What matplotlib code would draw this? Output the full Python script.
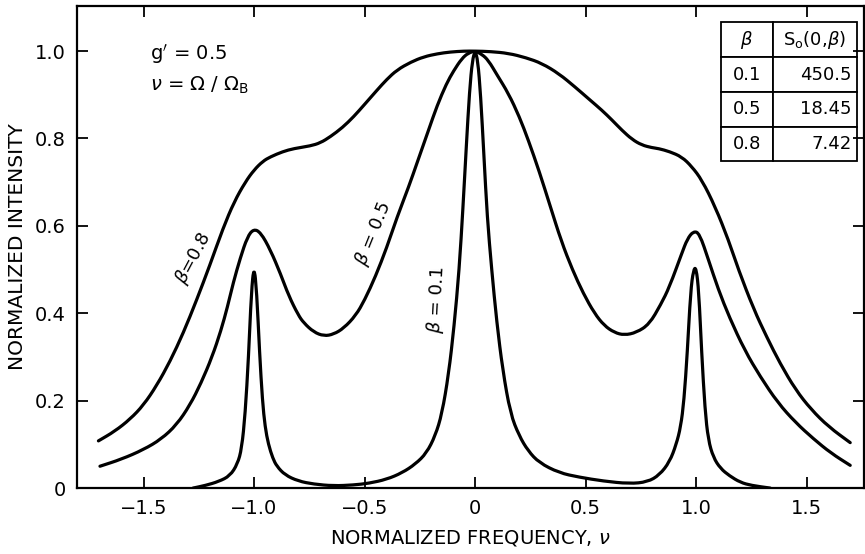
import matplotlib
matplotlib.use("Agg")
import matplotlib.pyplot as plt
from matplotlib.path import Path
from matplotlib.patches import PathPatch

# values (normalized frequency, normalized intensity)
nu_01 = [-1.276, -1.22, -1.16, -1.109, -1.075, -1.056, -1.04, -1.025, -1.012, -1.0,
         -0.988, -0.975, -0.962, -0.95, -0.935, -0.915, -0.897, -0.86, -0.80, -0.73,
         -0.641, -0.55, -0.48, -0.40, -0.33, -0.27, -0.22, -0.18, -0.15, -0.12,
         -0.095, -0.072, -0.055, -0.04, -0.025, -0.012, 0.0, 0.012, 0.025, 0.04,
         0.055, 0.075, 0.098, 0.125, 0.16, 0.199, 0.24, 0.29, 0.38, 0.47,
         0.58, 0.698, 0.78, 0.834, 0.88, 0.91, 0.93, 0.945, 0.96, 0.975,
         0.988, 1.0, 1.012, 1.025, 1.04, 1.055, 1.078, 1.11, 1.151, 1.20,
         1.25, 1.335]
int_01 = [0.0, 0.006, 0.015, 0.028, 0.055, 0.09, 0.17, 0.30, 0.45, 0.51,
          0.45, 0.31, 0.20, 0.14, 0.10, 0.068, 0.05, 0.03, 0.016, 0.009,
          0.005, 0.007, 0.011, 0.020, 0.035, 0.055, 0.08, 0.12, 0.17, 0.26,
          0.37, 0.50, 0.64, 0.78, 0.91, 0.98, 1.0, 0.98, 0.90, 0.76,
          0.62, 0.50, 0.38, 0.27, 0.17, 0.12, 0.085, 0.058, 0.035, 0.025,
          0.016, 0.010, 0.014, 0.030, 0.06, 0.10, 0.14, 0.20, 0.31, 0.45,
          0.50, 0.505, 0.45, 0.31, 0.18, 0.11, 0.07, 0.045, 0.028, 0.013,
          0.006, 0.0]

nu_05 = [-1.697, -1.60, -1.50, -1.42, -1.35, -1.29, -1.24, -1.19, -1.15, -1.12,
         -1.094, -1.062, -1.03, -1.002, -0.97, -0.926, -0.88, -0.843, -0.80, -0.775,
         -0.73, -0.684, -0.64, -0.594, -0.54, -0.50, -0.45, -0.40, -0.353, -0.30,
         -0.262, -0.21, -0.172, -0.13, -0.097, -0.06, -0.03, 0.0, 0.03, 0.06,
         0.10, 0.151, 0.20, 0.241, 0.29, 0.34, 0.39, 0.44, 0.49, 0.54,
         0.584, 0.63, 0.675, 0.73, 0.788, 0.84, 0.879, 0.935, 0.96, 0.988,
         1.015, 1.056, 1.10, 1.151, 1.22, 1.29, 1.37, 1.45, 1.53, 1.61,
         1.697]
int_05 = [0.050, 0.066, 0.088, 0.112, 0.145, 0.19, 0.24, 0.30, 0.36, 0.415,
          0.47, 0.527, 0.575, 0.593, 0.585, 0.545, 0.49, 0.44, 0.396, 0.378,
          0.357, 0.348, 0.352, 0.366, 0.395, 0.43, 0.485, 0.55, 0.62, 0.69,
          0.745, 0.82, 0.875, 0.925, 0.955, 0.983, 0.996, 1.0, 0.993, 0.979,
          0.945, 0.903, 0.85, 0.796, 0.725, 0.645, 0.565, 0.50, 0.445, 0.40,
          0.372, 0.356, 0.350, 0.356, 0.375, 0.42, 0.46, 0.537, 0.57, 0.588,
          0.583, 0.522, 0.455, 0.39, 0.315, 0.255, 0.195, 0.15, 0.113, 0.08,
          0.052]

nu_08 = [-1.704, -1.63, -1.56, -1.50, -1.44, -1.38, -1.32, -1.26, -1.20, -1.14,
         -1.09, -1.04, -1.0, -0.96, -0.926, -0.87, -0.820, -0.745, -0.70, -0.655,
         -0.60, -0.549, -0.50, -0.443, -0.40, -0.353, -0.29, -0.232, -0.17, -0.112,
         -0.05, 0.0, 0.07, 0.151, 0.23, 0.302, 0.38, 0.452, 0.52, 0.573,
         0.62, 0.664, 0.71, 0.754, 0.80, 0.830, 0.88, 0.935, 0.98, 1.026,
         1.086, 1.146, 1.192, 1.26, 1.32, 1.38, 1.45, 1.52, 1.60, 1.697]
int_08 = [0.108, 0.13, 0.158, 0.19, 0.235, 0.29, 0.355, 0.43, 0.51, 0.595,
          0.655, 0.70, 0.728, 0.748, 0.758, 0.770, 0.777, 0.783, 0.790, 0.804,
          0.825, 0.850, 0.878, 0.911, 0.935, 0.957, 0.975, 0.987, 0.994, 0.998,
          1.0, 1.0, 0.999, 0.995, 0.985, 0.972, 0.948, 0.918, 0.888, 0.865,
          0.842, 0.819, 0.798, 0.785, 0.779, 0.777, 0.770, 0.758, 0.736, 0.705,
          0.644, 0.568, 0.499, 0.41, 0.345, 0.285, 0.225, 0.18, 0.14, 0.104]

x_ticks = [-1.5, -1.0, -0.5, 0.0, 0.5, 1.0, 1.5]
x_ticklabels = ["\u22121.5", "\u22121.0", "\u22120.5", "0", "0.5", "1.0", "1.5"]
y_ticks = [0.0, 0.2, 0.4, 0.6, 0.8, 1.0]
y_ticklabels = ["0", "0.2", "0.4", "0.6", "0.8", "1.0"]

table_header = [r"$\beta$", r"S$_\mathrm{o}$(0,$\beta$)"]
table_beta = ["0.1", "0.5", "0.8"]
table_s0 = ["450.5", "18.45", "7.42"]


def smooth_path(xs, ys):
    # quadratic b-spline style path: the read points act as control points
    pts = list(zip(xs, ys))
    verts = [pts[0]]
    codes = [Path.MOVETO]
    mid = ((pts[0][0] + pts[1][0]) / 2, (pts[0][1] + pts[1][1]) / 2)
    verts.append(mid)
    codes.append(Path.LINETO)
    for i in range(1, len(pts) - 1):
        nxt = ((pts[i][0] + pts[i + 1][0]) / 2, (pts[i][1] + pts[i + 1][1]) / 2)
        verts += [pts[i], nxt]
        codes += [Path.CURVE3, Path.CURVE3]
    verts.append(pts[-1])
    codes.append(Path.LINETO)
    return Path(verts, codes)


plt.rcParams['font.family'] = ['DejaVu Sans']
plt.rcParams['mathtext.fontset'] = 'dejavusans'

fig = plt.figure(figsize=(8.65, 5.54), dpi=100)
ax = fig.add_axes([0.089, 0.119, 0.910, 0.870])

for xs, ys in [(nu_01, int_01), (nu_05, int_05), (nu_08, int_08)]:
    ax.add_patch(PathPatch(smooth_path(xs, ys), facecolor='none',
                           edgecolor='black', lw=2.3, capstyle='round',
                           joinstyle='round'))

ax.set_xlim(-1.801, 1.76)
ax.set_ylim(0.0, 1.103)
ax.set_xticks(x_ticks)
ax.set_xticklabels(x_ticklabels)
ax.set_yticks(y_ticks)
ax.set_yticklabels(y_ticklabels)
ax.tick_params(direction='in', length=8, width=1.3, labelsize=14,
               top=True, right=True, pad=8)
for s in ax.spines.values():
    s.set_linewidth(1.6)

ax.set_xlabel(r"NORMALIZED FREQUENCY, $\nu$", fontsize=14, labelpad=7)
ax.set_ylabel("NORMALIZED INTENSITY", fontsize=14.5, labelpad=6)

ax.text(-1.471, 0.993, "g$'$ = 0.5", fontsize=14, va='center')
ax.text(-1.471, 0.922, r"$\nu$ = $\Omega$ / $\Omega_\mathrm{B}$", fontsize=14, va='center')

ax.text(-1.275, 0.525, r"$\beta$=0.8", fontsize=13, rotation=62,
        ha='center', va='center')
ax.text(-0.462, 0.583, r"$\beta$ = 0.5", fontsize=13, rotation=68,
        ha='center', va='center')
ax.text(-0.175, 0.43, r"$\beta$ = 0.1", fontsize=13, rotation=87,
        ha='center', va='center')

rows = [[b, s] for b, s in zip(table_beta, table_s0)]
tbl = ax.table(cellText=rows, colLabels=table_header,
               bbox=[0.818, 0.678, 0.173, 0.288], colWidths=[0.38, 0.62])
tbl.auto_set_font_size(False)
tbl.set_fontsize(13)
for (r, c), cell in tbl.get_celld().items():
    cell.set_linewidth(1.3)
    if r > 0 and c == 1:
        cell.get_text().set_ha('right')
        cell.PAD = 0.06
    else:
        cell.get_text().set_ha('center')

fig.savefig("out.png", dpi=100)
